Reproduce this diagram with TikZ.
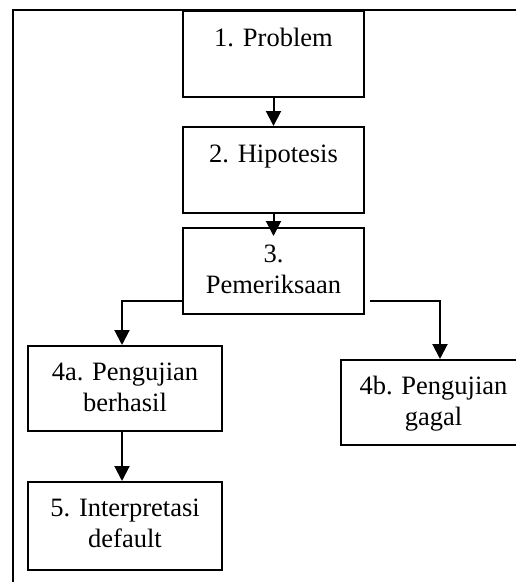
\documentclass[tikz,border=0pt]{standalone}
\usepackage{fontspec}
\setmainfont{Liberation Serif}
\usetikzlibrary{arrows.meta}
\tikzset{
  kotak/.style={draw, line width=2pt, inner sep=0pt, anchor=north west},
  teks/.style={anchor=base, yshift=-36pt, align=center, inner sep=0pt,
    font=\fontsize{26.5}{30.5}\selectfont},
  teksdua/.style={teks, yshift=-30pt},
  panah/.style={line width=2pt, -{Triangle[width=15pt,length=15pt]}}
}
\begin{document}
\begin{tikzpicture}[x=1pt,y=-1pt]
  \useasboundingbox (0,0) rectangle (516,582);
  % bingkai luar (terpotong di kanan dan bawah)
  \draw[line width=2pt] (13,600) -- (13,10) -- (530,10);
  \node[kotak, minimum width=181pt, minimum height=86pt,
    label={[teks]north:1. Problem}] (p1) at (182,10) {};
  \node[kotak, minimum width=181pt, minimum height=86pt,
    label={[teks]north:2. Hipotesis}] (p2) at (182,126) {};
  \node[kotak, minimum width=181pt, minimum height=86pt,
    label={[teksdua]north:{3.\\Pemeriksaan}}] (p3) at (182,227) {};
  \node[kotak, minimum width=194pt, minimum height=85pt,
    label={[teksdua]north:{4a. Pengujian\\berhasil}}] (p4a) at (27,345) {};
  \node[kotak, minimum width=185pt, minimum height=85pt,
    label={[teksdua]north:{4b. Pengujian\\gagal}}] (p4b) at (340,359) {};
  \node[kotak, minimum width=194pt, minimum height=88pt,
    label={[teksdua]north:{5. Interpretasi\\default}}] (p5) at (27,481) {};
  \coordinate (c3l) at (182,301);
  \coordinate (c3r) at (370,301);
  \draw[panah] (p1.south) -- (p2.north);
  \draw[panah, shorten >=-9pt] (p2.south) -- (p3.north);
  \draw[panah] (c3l) -| ([xshift=-3pt]p4a.north);
  \draw[panah] (c3r) -| ([xshift=6.5pt]p4b.north);
  \draw[panah] ([xshift=-3pt]p4a.south) -- ([xshift=-3pt]p5.north);
\end{tikzpicture}
\end{document}
